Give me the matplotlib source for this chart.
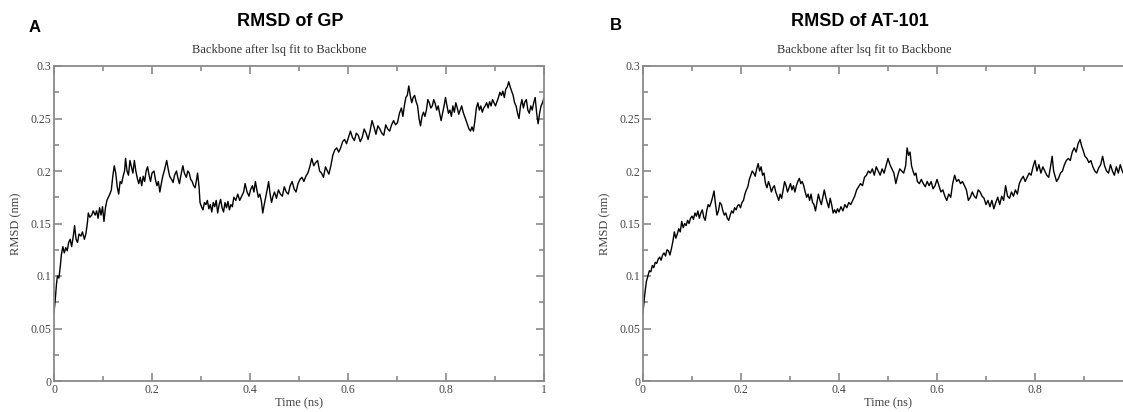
import matplotlib
matplotlib.use("Agg")
import matplotlib.pyplot as plt
from matplotlib.ticker import MultipleLocator, FuncFormatter

# ---------------- data ----------------
gp_time = [0.000,0.003,0.005,0.007,0.010,0.013,0.015,0.018,0.021,0.024,0.027,0.030,0.033,0.036,0.040,0.042,0.045,0.048,0.051,0.055,
           0.058,0.062,0.065,0.068,0.070,0.073,0.077,0.080,0.084,0.087,0.090,0.093,0.096,0.099,0.102,0.105,0.108,0.111,0.114,0.117,
           0.120,0.123,0.126,0.129,0.132,0.135,0.138,0.141,0.144,0.146,0.149,0.152,0.155,0.158,0.161,0.164,0.167,0.170,0.173,0.176,
           0.179,0.182,0.185,0.188,0.191,0.194,0.197,0.200,0.204,0.207,0.210,0.213,0.216,0.219,0.222,0.226,0.230,0.233,0.236,0.240,
           0.243,0.246,0.250,0.253,0.256,0.259,0.263,0.266,0.270,0.273,0.276,0.279,0.282,0.285,0.288,0.291,0.293,0.296,0.298,0.301,
           0.304,0.307,0.310,0.313,0.316,0.319,0.322,0.325,0.328,0.331,0.334,0.337,0.340,0.343,0.346,0.349,0.352,0.355,0.358,0.361,
           0.364,0.367,0.371,0.375,0.379,0.383,0.387,0.390,0.394,0.398,0.401,0.405,0.408,0.411,0.414,0.417,0.420,0.423,0.426,0.429,
           0.432,0.435,0.438,0.441,0.444,0.447,0.450,0.454,0.458,0.462,0.466,0.470,0.474,0.478,0.482,0.486,0.490,0.494,0.498,0.502,
           0.506,0.510,0.514,0.518,0.522,0.526,0.530,0.534,0.538,0.542,0.546,0.550,0.554,0.558,0.561,0.565,0.569,0.573,0.577,0.581,
           0.585,0.589,0.593,0.597,0.601,0.605,0.609,0.613,0.617,0.621,0.625,0.629,0.633,0.637,0.641,0.645,0.649,0.653,0.657,0.661,
           0.665,0.669,0.673,0.677,0.681,0.685,0.689,0.693,0.697,0.701,0.705,0.709,0.712,0.715,0.718,0.721,0.724,0.727,0.730,0.733,
           0.736,0.739,0.742,0.745,0.748,0.751,0.754,0.757,0.760,0.763,0.766,0.769,0.772,0.775,0.778,0.781,0.784,0.787,0.790,0.793,
           0.796,0.799,0.802,0.805,0.808,0.811,0.814,0.817,0.820,0.823,0.826,0.829,0.832,0.835,0.838,0.841,0.844,0.847,0.850,0.853,
           0.856,0.859,0.862,0.865,0.868,0.871,0.874,0.877,0.880,0.883,0.886,0.889,0.892,0.895,0.898,0.901,0.904,0.907,0.910,0.913,
           0.916,0.919,0.922,0.925,0.928,0.931,0.934,0.937,0.940,0.943,0.946,0.949,0.952,0.955,0.958,0.961,0.964,0.967,0.970,0.973,
           0.976,0.979,0.982,0.985,0.988,0.991,0.994,0.997,1.000]
gp_rmsd = [0.065,0.080,0.092,0.100,0.098,0.110,0.120,0.128,0.122,0.127,0.124,0.132,0.135,0.128,0.140,0.148,0.135,0.132,0.140,0.138,
           0.142,0.135,0.140,0.150,0.160,0.156,0.158,0.162,0.158,0.162,0.155,0.165,0.158,0.166,0.152,0.165,0.172,0.175,0.178,0.182,
           0.195,0.205,0.198,0.185,0.178,0.190,0.188,0.195,0.200,0.212,0.200,0.196,0.210,0.204,0.198,0.210,0.200,0.193,0.188,0.194,
           0.186,0.195,0.190,0.200,0.204,0.196,0.190,0.198,0.200,0.192,0.186,0.190,0.180,0.188,0.195,0.202,0.210,0.202,0.195,0.192,
           0.189,0.196,0.200,0.193,0.188,0.196,0.205,0.198,0.194,0.200,0.198,0.192,0.190,0.186,0.184,0.192,0.198,0.185,0.170,0.166,
           0.163,0.170,0.168,0.172,0.164,0.168,0.161,0.170,0.166,0.172,0.160,0.168,0.173,0.165,0.161,0.170,0.165,0.171,0.163,0.168,
           0.166,0.175,0.172,0.178,0.172,0.176,0.180,0.188,0.180,0.176,0.182,0.186,0.180,0.190,0.182,0.175,0.178,0.172,0.160,0.168,
           0.175,0.182,0.190,0.178,0.170,0.176,0.180,0.174,0.182,0.178,0.176,0.185,0.180,0.178,0.186,0.190,0.183,0.180,0.188,0.192,
           0.194,0.190,0.195,0.198,0.204,0.212,0.205,0.208,0.210,0.200,0.198,0.194,0.204,0.200,0.197,0.205,0.215,0.220,0.222,0.218,
           0.222,0.228,0.230,0.226,0.232,0.238,0.232,0.229,0.236,0.234,0.228,0.232,0.240,0.236,0.230,0.238,0.248,0.242,0.235,0.243,
           0.240,0.236,0.234,0.244,0.240,0.238,0.244,0.248,0.244,0.246,0.255,0.260,0.252,0.262,0.270,0.272,0.281,0.272,0.265,0.270,
           0.272,0.266,0.262,0.250,0.243,0.252,0.256,0.252,0.258,0.268,0.265,0.260,0.262,0.268,0.264,0.258,0.262,0.255,0.248,0.255,
           0.262,0.270,0.262,0.255,0.258,0.252,0.262,0.256,0.265,0.260,0.254,0.258,0.262,0.256,0.252,0.248,0.244,0.240,0.238,0.242,
           0.238,0.248,0.260,0.265,0.258,0.262,0.256,0.260,0.262,0.265,0.260,0.266,0.262,0.268,0.265,0.262,0.266,0.270,0.275,0.272,
           0.276,0.270,0.278,0.280,0.285,0.280,0.276,0.272,0.265,0.262,0.255,0.250,0.262,0.268,0.260,0.266,0.268,0.258,0.255,0.262,
           0.258,0.265,0.270,0.255,0.245,0.255,0.262,0.265,0.270]

at_time = [0.000,0.003,0.005,0.007,0.010,0.013,0.016,0.019,0.022,0.025,0.028,0.031,0.034,0.037,0.040,0.043,0.046,0.049,0.052,0.055,
           0.058,0.061,0.064,0.067,0.070,0.073,0.076,0.079,0.082,0.085,0.088,0.091,0.094,0.097,0.100,0.103,0.106,0.109,0.112,0.115,
           0.118,0.121,0.124,0.127,0.130,0.133,0.136,0.139,0.142,0.145,0.148,0.151,0.154,0.157,0.160,0.163,0.166,0.169,0.172,0.175,
           0.178,0.181,0.184,0.187,0.190,0.193,0.196,0.199,0.202,0.205,0.208,0.211,0.214,0.217,0.220,0.223,0.226,0.229,0.232,0.235,
           0.238,0.241,0.244,0.247,0.250,0.253,0.256,0.259,0.262,0.265,0.268,0.271,0.274,0.277,0.280,0.283,0.286,0.289,0.292,0.295,
           0.298,0.301,0.304,0.307,0.310,0.313,0.316,0.319,0.322,0.325,0.328,0.331,0.334,0.337,0.340,0.343,0.346,0.349,0.352,0.355,
           0.358,0.361,0.364,0.367,0.370,0.373,0.376,0.379,0.382,0.385,0.388,0.391,0.394,0.397,0.400,0.404,0.408,0.412,0.416,0.420,
           0.424,0.428,0.432,0.436,0.440,0.444,0.448,0.452,0.456,0.460,0.464,0.468,0.472,0.476,0.480,0.484,0.488,0.492,0.496,0.500,
           0.504,0.508,0.512,0.516,0.520,0.524,0.528,0.532,0.536,0.539,0.542,0.545,0.548,0.551,0.554,0.557,0.560,0.564,0.568,0.572,
           0.576,0.580,0.584,0.588,0.592,0.596,0.600,0.604,0.608,0.612,0.616,0.620,0.624,0.628,0.632,0.636,0.640,0.644,0.648,0.652,
           0.656,0.660,0.664,0.668,0.672,0.676,0.680,0.684,0.688,0.692,0.696,0.700,0.704,0.708,0.712,0.716,0.720,0.724,0.728,0.732,
           0.736,0.740,0.744,0.748,0.752,0.756,0.760,0.764,0.768,0.772,0.776,0.780,0.784,0.788,0.792,0.796,0.800,0.804,0.808,0.812,
           0.816,0.820,0.824,0.828,0.832,0.835,0.838,0.841,0.844,0.848,0.852,0.856,0.860,0.864,0.868,0.872,0.876,0.880,0.884,0.888,
           0.892,0.895,0.898,0.902,0.906,0.910,0.914,0.918,0.922,0.926,0.930,0.934,0.938,0.942,0.946,0.950,0.954,0.958,0.962,0.966,
           0.970,0.974,0.978,0.982,0.986,0.990,0.994,1.000]
at_rmsd = [0.065,0.080,0.088,0.095,0.100,0.105,0.104,0.110,0.108,0.113,0.112,0.116,0.118,0.115,0.120,0.122,0.119,0.125,0.124,0.120,
           0.126,0.133,0.142,0.136,0.140,0.145,0.142,0.152,0.146,0.150,0.148,0.153,0.150,0.155,0.157,0.154,0.160,0.157,0.162,0.155,
           0.160,0.163,0.156,0.153,0.162,0.168,0.166,0.170,0.175,0.181,0.168,0.158,0.162,0.170,0.168,0.162,0.158,0.160,0.155,0.153,
           0.158,0.162,0.160,0.165,0.163,0.167,0.168,0.165,0.170,0.172,0.178,0.182,0.185,0.192,0.196,0.200,0.198,0.195,0.202,0.207,
           0.200,0.204,0.196,0.198,0.188,0.184,0.190,0.186,0.180,0.184,0.186,0.180,0.176,0.172,0.178,0.174,0.182,0.190,0.186,0.180,
           0.184,0.188,0.182,0.186,0.180,0.186,0.190,0.193,0.188,0.190,0.186,0.180,0.175,0.178,0.172,0.178,0.170,0.168,0.162,0.170,
           0.178,0.172,0.168,0.175,0.182,0.175,0.170,0.165,0.174,0.168,0.160,0.163,0.160,0.164,0.161,0.166,0.162,0.168,0.165,0.170,
           0.168,0.172,0.176,0.182,0.185,0.188,0.186,0.194,0.196,0.200,0.198,0.202,0.196,0.204,0.200,0.196,0.202,0.198,0.205,0.212,
           0.206,0.202,0.198,0.188,0.196,0.202,0.200,0.198,0.205,0.222,0.215,0.218,0.205,0.200,0.196,0.198,0.190,0.188,0.192,0.188,
           0.185,0.190,0.186,0.190,0.183,0.186,0.192,0.186,0.180,0.182,0.176,0.172,0.178,0.175,0.188,0.196,0.190,0.192,0.188,0.190,
           0.186,0.182,0.172,0.175,0.180,0.176,0.174,0.182,0.180,0.176,0.174,0.168,0.172,0.166,0.172,0.164,0.170,0.175,0.168,0.176,
           0.172,0.186,0.176,0.174,0.180,0.176,0.182,0.178,0.188,0.192,0.195,0.190,0.194,0.198,0.196,0.204,0.210,0.200,0.206,0.198,
           0.204,0.200,0.196,0.194,0.205,0.214,0.200,0.195,0.190,0.193,0.198,0.200,0.206,0.210,0.212,0.210,0.218,0.222,0.218,0.226,
           0.230,0.224,0.220,0.214,0.212,0.208,0.210,0.204,0.200,0.198,0.203,0.206,0.214,0.205,0.200,0.198,0.206,0.200,0.196,0.204,
           0.198,0.206,0.200,0.196,0.202,0.198,0.200,0.198]

panel_letters = ["A", "B"]
panel_titles = ["RMSD of GP", "RMSD of AT-101"]
subtitle = "Backbone after lsq fit to Backbone"
x_label = "Time (ns)"
y_label = "RMSD (nm)"
x_ticks_gp = [0, 0.2, 0.4, 0.6, 0.8, 1.0]
x_ticks_at = [0, 0.2, 0.4, 0.6, 0.8]   # the "1" label lies beyond the cropped right edge
y_ticks = [0, 0.05, 0.1, 0.15, 0.2, 0.25, 0.3]

# ---------------- figure ----------------
W, H = 1123, 412
fig = plt.figure(figsize=(W / 100, H / 100), dpi=100)

SERIF = ["Liberation Serif", "DejaVu Serif"]
SANS = ["Liberation Sans", "DejaVu Sans"]
spine_col = "#8a8a8a"
text_col = "#444444"

def fmt(v, pos):
    return ("%.3f" % v).rstrip("0").rstrip(".")

def px(x0, y0, x1, y1):
    # pixel box (left, top, right, bottom) -> figure fraction
    return [x0 / W, 1 - y1 / H, (x1 - x0) / W, (y1 - y0) / H]

boxes = [px(54, 66, 544, 381), px(643, 66, 1133, 381)]
series = [(gp_time, gp_rmsd), (at_time, at_rmsd)]
xticks_list = [x_ticks_gp, x_ticks_at]

for i, (box, (t, r)) in enumerate(zip(boxes, series)):
    ax = fig.add_axes(box)
    ax.plot(t, r, color="black", lw=1.0)
    ax.set_xlim(0, 1)
    ax.set_ylim(0, 0.3)
    ax.set_xticks(xticks_list[i])
    ax.set_yticks(y_ticks)
    ax.xaxis.set_minor_locator(MultipleLocator(0.1))
    ax.yaxis.set_minor_locator(MultipleLocator(0.025))
    ax.xaxis.set_major_formatter(FuncFormatter(fmt))
    ax.yaxis.set_major_formatter(FuncFormatter(fmt))
    ax.tick_params(which="both", direction="in", top=True, right=True,
                   color=spine_col, width=1.2, labelcolor=text_col)
    ax.tick_params(which="major", length=6, labelsize=8.5, pad=2)
    ax.tick_params(which="minor", length=3.5)
    for lab in ax.get_xticklabels() + ax.get_yticklabels():
        lab.set_fontfamily(SERIF)
    for s in ax.spines.values():
        s.set_color(spine_col)
        s.set_linewidth(1.3)
    ax.set_xlabel(x_label, family=SERIF, fontsize=9, color=text_col, labelpad=1)
    ax.set_ylabel(y_label, family=SERIF, fontsize=9, color=text_col, labelpad=6)

# titles, subtitles and panel letters
fig.text(35 / W, 1 - 27 / H, panel_letters[0], family=SANS, fontweight="bold",
         fontsize=12, ha="center", va="center", color="black")
fig.text(616 / W, 1 - 26 / H, panel_letters[1], family=SANS, fontweight="bold",
         fontsize=12, ha="center", va="center", color="black")
fig.text(290 / W, 1 - 22 / H, panel_titles[0], family=SANS, fontweight="bold",
         fontsize=13, ha="center", va="center", color="black")
fig.text(860 / W, 1 - 22 / H, panel_titles[1], family=SANS, fontweight="bold",
         fontsize=13, ha="center", va="center", color="black")
fig.text(279 / W, 1 - 50 / H, subtitle, family=SERIF, fontsize=9,
         ha="center", va="center", color="#333333")
fig.text(864 / W, 1 - 50 / H, subtitle, family=SERIF, fontsize=9,
         ha="center", va="center", color="#333333")

fig.savefig("out.png", dpi=100)
